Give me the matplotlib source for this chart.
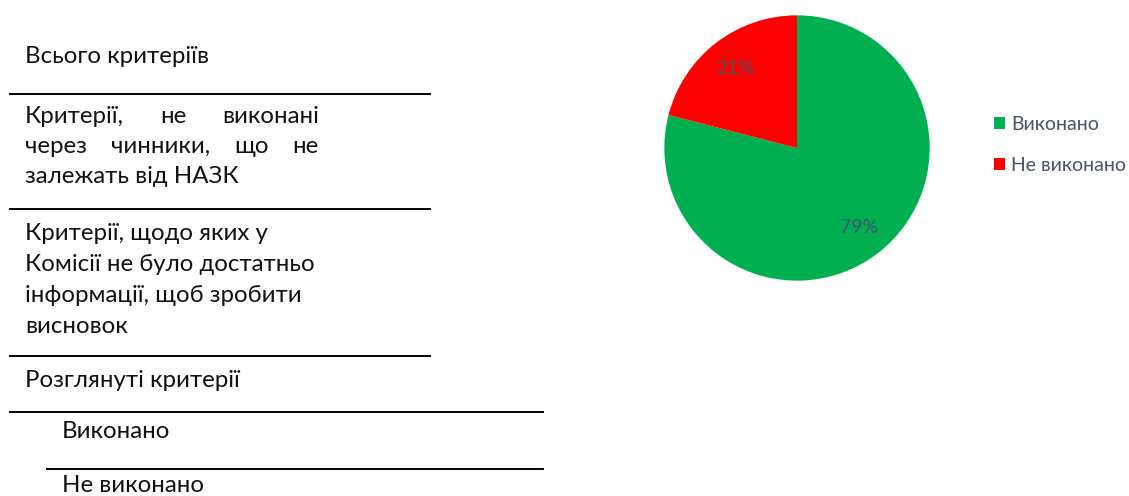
import matplotlib
matplotlib.use('Agg')
import matplotlib.pyplot as plt
from matplotlib.patches import Patch

# ── Data ─────────────────────────────────────────────────────────────
slice_labels = ['Виконано', 'Не виконано']
slice_values = [79, 21]
slice_colors = ['#00B050', '#FF0000']

# table rows on the left
row_total = ['Всього критеріїв']
row_external = ['Критерії, не виконані', 'через чинники, що не', 'залежать від НАЗК']
row_noinfo = ['Критерії, щодо яких у', 'Комісії не було достатньо',
              'інформації, щоб зробити', 'висновок']
row_reviewed = ['Розглянуті критерії']
row_done = ['Виконано']
row_notdone = ['Не виконано']

W, H = 1129, 496
plt.rcParams['font.family'] = ['Lato', 'Open Sans', 'DejaVu Sans']
fig = plt.figure(figsize=(W / 100, H / 100), dpi=100)
fig.patch.set_facecolor('white')

FS = 17.3
TXT = '#111111'
LABEL_C = '#44546A'


def px(x, y):
    return x / W, 1 - y / H


def put(x, y, s, **kw):
    # y is the text baseline, in pixels from the top
    fx, fy = px(x, y)
    return fig.text(fx, fy, s, fontsize=FS, color=TXT, va='baseline', ha='left', **kw)


def justified(x0, x1, y, line):
    # spread words between x0 and x1 like a justified paragraph line
    words = line.split()
    r = fig.canvas.get_renderer()
    arts = [put(x0, y, w) for w in words]
    widths = [a.get_window_extent(r).width for a in arts]
    gap = (x1 - x0 - sum(widths)) / max(len(words) - 1, 1)
    x = x0
    for a, w in zip(arts, widths):
        a.set_x(x / W)
        x += w + gap


def hline(y, x0, x1):
    fig.add_artist(plt.Line2D([x0 / W, x1 / W], [1 - y / H, 1 - y / H],
                              color='black', lw=1.4))


# ── Left table ───────────────────────────────────────────────────────
put(25, 63, row_total[0])
hline(94, 10, 430)
justified(25, 319, 123, row_external[0])
justified(25, 319, 153, row_external[1])
put(25, 183, row_external[2])
hline(209, 10, 430)
for i, line in enumerate(row_noinfo):
    put(25, 240 + i * 31, line)
hline(356, 10, 430)
put(25, 387, row_reviewed[0])
hline(412, 10, 543)
put(62, 438, row_done[0])
hline(469, 47, 543)
put(62, 492, row_notdone[0])

# ── Pie ──────────────────────────────────────────────────────────────
cx, cy, rad = 797, 148, 134
ax = fig.add_axes([(cx - rad) / W, 1 - (cy + rad) / H, 2 * rad / W, 2 * rad / H])
wedges, _, autotexts = ax.pie(
    slice_values, colors=slice_colors, startangle=90, counterclock=False,
    autopct='%d%%', pctdistance=0.76,
    wedgeprops=dict(linewidth=0), textprops=dict(color=LABEL_C, fontsize=14),
)
ax.set_xlim(-1.01, 1.01)
ax.set_ylim(-1.01, 1.01)
ax.set_aspect('equal')
ax.axis('off')

handles = [Patch(facecolor=c, edgecolor='none') for c in slice_colors]
leg = fig.legend(handles, slice_labels, loc='center left',
                 bbox_to_anchor=px(994, 145), frameon=False,
                 borderaxespad=0, borderpad=0,
                 fontsize=14, handlelength=0.55, handleheight=0.55,
                 handletextpad=0.34, labelspacing=1.25)
for t in leg.get_texts():
    t.set_color(LABEL_C)

fig.savefig('out.png', dpi=100, facecolor='white')
